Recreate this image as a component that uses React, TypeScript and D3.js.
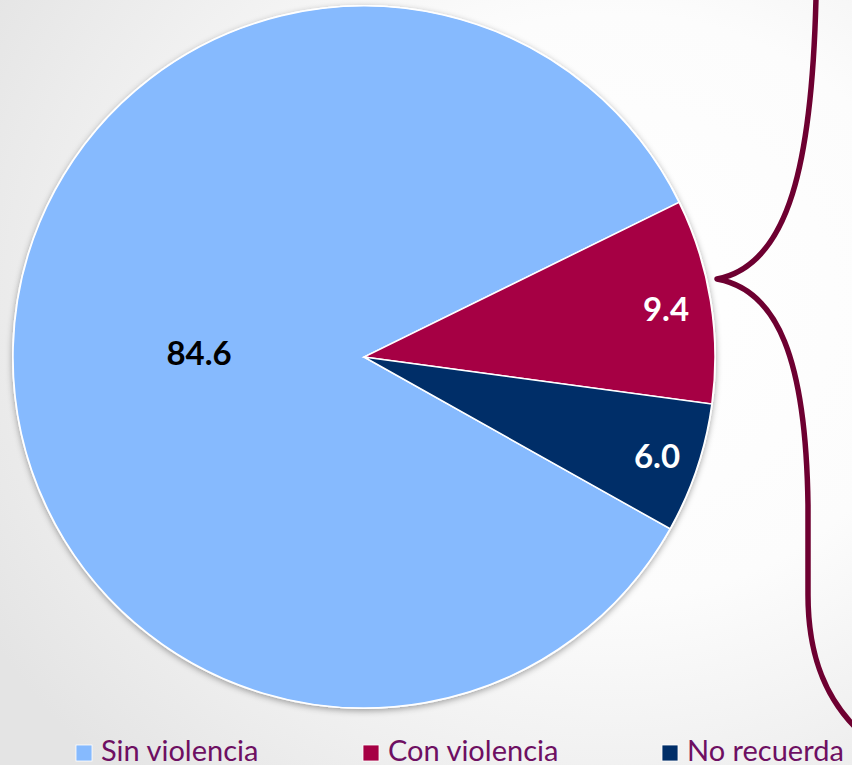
import React from "react";
import * as d3 from "d3";

const categories = ["Sin violencia", "Con violencia", "No recuerda"];
const values = [84.6, 9.4, 6.0];
const colors = ["#86BAFE", "#A60044", "#002E68"];
const labelColors = ["#000000", "#FFFFFF", "#FFFFFF"];

const W = 852;
const H = 765;

export default function App() {
  const cx = 364;
  const cy = 357;
  const R = 351;
  const start = (119.3 * Math.PI) / 180;
  const pie = d3
    .pie<number>()
    .sort(null)
    .startAngle(start)
    .endAngle(start + 2 * Math.PI);
  const arcs = pie(values);
  const arc = d3.arc<d3.PieArcDatum<number>>().innerRadius(0).outerRadius(R);
  const labelR = [165, 306, 309];
  const legendX = [76, 363, 662];
  const fontFamily = "Lato, 'Open Sans', sans-serif";

  const bracePath =
    "M816,-2 C812,160 790,265 717,279 C778,290 806,360 808,505 L808,595 C808,660 828,700 856,728";

  return (
    <svg
      width={W}
      height={H}
      style={{ position: "absolute", left: 0, top: 0, display: "block" }}
    >
      <defs>
        <radialGradient id="bg" cx="0.72" cy="0.4" r="0.85">
          <stop offset="0" stopColor="#ffffff" />
          <stop offset="0.45" stopColor="#fcfcfc" />
          <stop offset="1" stopColor="#e4e4e4" />
        </radialGradient>
        <filter id="shadow" x="-10%" y="-10%" width="120%" height="120%">
          <feDropShadow dx="0" dy="2" stdDeviation="3" floodColor="#000" floodOpacity="0.35" />
        </filter>
      </defs>
      <rect x={0} y={0} width={W} height={H} fill="url(#bg)" />
      <circle cx={cx} cy={cy} r={R + 1} fill="#ffffff" filter="url(#shadow)" />
      <g transform={`translate(${cx},${cy})`}>
        {arcs.map((a, i) => (
          <path key={i} d={arc(a) || ""} fill={colors[i]} stroke="#ffffff" strokeWidth={1.5} />
        ))}
        {arcs.map((a, i) => {
          const mid = (a.startAngle + a.endAngle) / 2;
          const x = Math.sin(mid) * labelR[i];
          const y = -Math.cos(mid) * labelR[i];
          return (
            <text
              key={i}
              x={x}
              y={y}
              textAnchor="middle"
              dominantBaseline="central"
              fill={labelColors[i]}
              fontFamily={fontFamily}
              fontWeight="bold"
              fontSize={33}
            >
              {values[i].toFixed(1)}
            </text>
          );
        })}
      </g>
      <path d={bracePath} fill="none" stroke="#6E0031" strokeWidth={5.5} strokeLinecap="round" strokeLinejoin="round" />
      {categories.map((c, i) => (
        <g key={c}>
          <rect x={legendX[i]} y={745} width={16} height={16} fill={colors[i]} stroke="#ffffff" strokeWidth={0.8} />
          <text
            x={legendX[i] + 25}
            y={761}
            fill="#6E0F62"
            fontFamily={fontFamily}
            fontSize={29}
          >
            {c}
          </text>
        </g>
      ))}
    </svg>
  );
}
